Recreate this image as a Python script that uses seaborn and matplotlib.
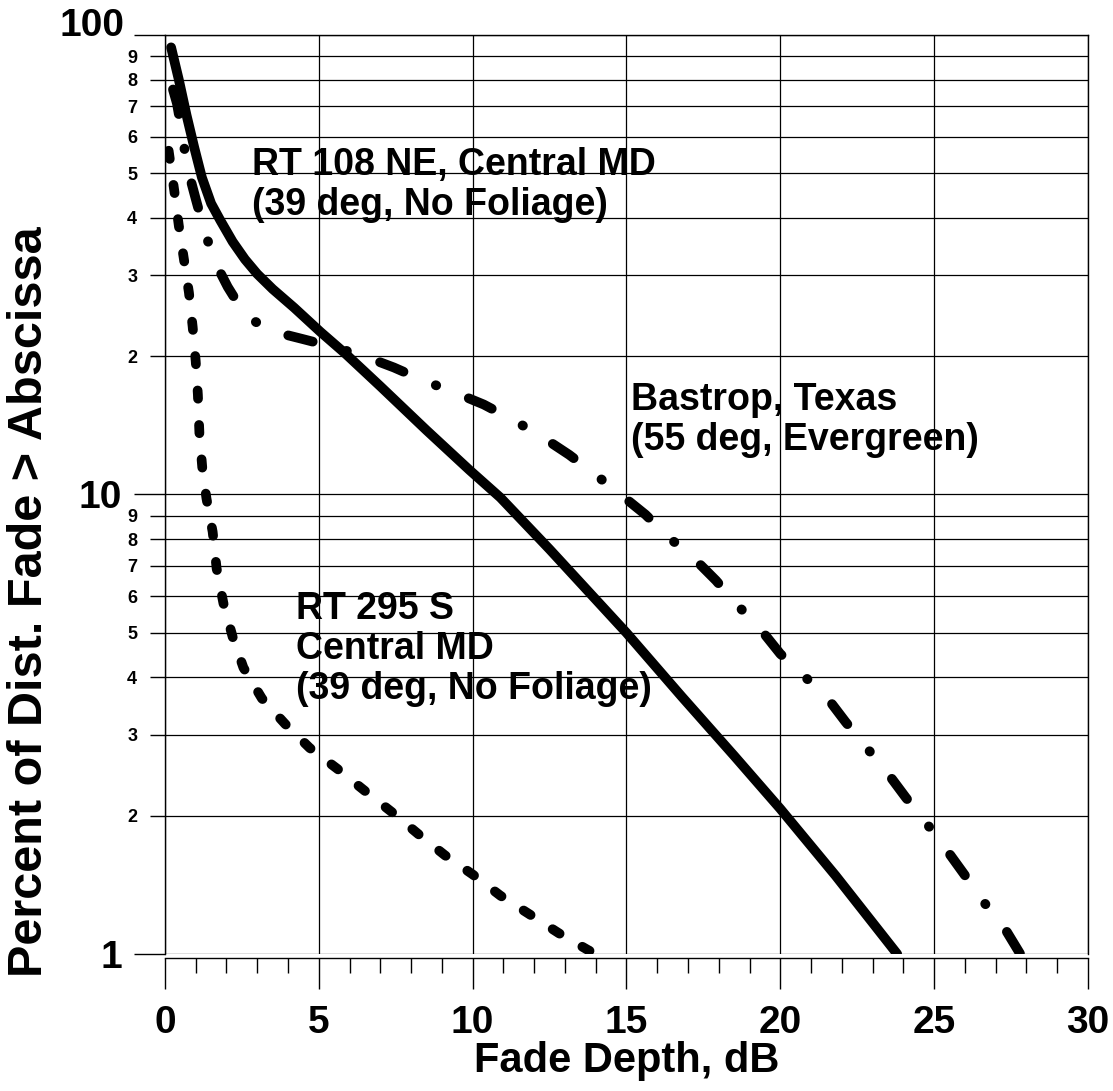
import numpy as np
import pandas as pd
import matplotlib
matplotlib.use("Agg")
import matplotlib.pyplot as plt
import seaborn as sns
from matplotlib.ticker import FixedLocator, FixedFormatter, MultipleLocator

# ---------------- data ----------------
rt108_x = [0.2, 0.45, 0.7, 0.95, 1.2, 1.5, 1.8, 2.2, 2.6, 3.0, 3.5, 4.2, 5.05,
           5.85, 7.0, 8.5, 9.9, 10.9, 12.5, 15.0, 16.8, 18.5, 20.0, 21.8, 23.8]
rt108_y = [94, 80, 67, 57, 49, 43, 39.5, 35.5, 32.5, 30.2, 28.0, 25.5, 22.6,
           20.3, 17.2, 13.8, 11.3, 9.85, 7.6, 5.0, 3.63, 2.7, 2.07, 1.48, 1.0]

bastrop_x = [0.1, 0.39, 0.58, 0.71, 1.0, 1.26, 1.6, 2.04, 2.62, 3.43, 4.47, 5.53,
             6.47, 7.44, 8.41, 9.39, 10.36, 11.34, 12.22, 13.14, 13.95, 14.77,
             15.62, 16.34, 17.16, 17.91, 18.6, 19.35, 20.0, 20.82, 21.54, 22.12,
             22.81, 23.46, 24.08, 24.74, 25.39, 25.98, 26.6, 27.25, 27.8]
bastrop_y = [83, 71, 60, 52, 44, 38, 32.3, 28.3, 24.5, 22.7, 21.8, 20.9,
             20.0, 18.9, 17.7, 16.7, 15.7, 14.5, 13.4, 12.2, 11.1, 10.05,
             9.04, 8.1, 7.3, 6.5, 5.75, 5.1, 4.5, 4.0, 3.6, 3.2,
             2.81, 2.49, 2.19, 1.93, 1.69, 1.49, 1.30, 1.15, 1.0]

rt295_x = [0.12, 0.3, 0.45, 0.62, 0.78, 0.9, 1.0, 1.07, 1.12, 1.22, 1.35, 1.55,
           1.68, 1.9, 2.2, 2.55, 3.15, 3.9, 4.7, 5.6, 6.55, 7.4, 8.25, 9.1,
           10.0, 10.9, 11.85, 12.8, 13.75, 14.0]
rt295_y = [56, 46, 38.5, 32.4, 27.5, 23.2, 19.5, 16.5, 13.6, 11.3, 9.8, 8.3,
           6.9, 5.8, 4.9, 4.2, 3.6, 3.17, 2.81, 2.53, 2.25, 2.03, 1.82, 1.64,
           1.49, 1.34, 1.22, 1.11, 1.02, 1.0]

x_major = [0, 5, 10, 15, 20, 25, 30]
x_major_labels = ["0", "5", "10", "15", "20", "25", "30"]
y_major = [1, 10, 100]
y_major_labels = ["1", "10", ""]
y_top_label = "100"
y_minor = [2, 3, 4, 5, 6, 7, 8, 9, 20, 30, 40, 50, 60, 70, 80, 90]
y_minor_labels = ["2", "3", "4", "5", "6", "7", "8", "9",
                  "2", "3", "4", "5", "6", "7", "8", "9"]

label_rt108 = "RT 108 NE, Central MD\n(39 deg, No Foliage)"
label_bastrop = "Bastrop, Texas\n(55 deg, Evergreen)"
label_rt295 = "RT 295 S\nCentral MD\n(39 deg, No Foliage)"
x_title = "Fade Depth, dB"
y_title = "Percent of Dist. Fade > Abscissa"

# ---------------- style ----------------
sns.set_theme(style="white")
plt.rcParams["font.family"] = ["Liberation Sans", "DejaVu Sans"]
plt.rcParams["font.weight"] = "bold"
plt.rcParams["axes.edgecolor"] = "black"

fig = plt.figure(figsize=(11.13, 10.91), dpi=100)
ax = fig.add_axes([0.1482, 0.1256, 0.8293, 0.8423])

series = [
    (rt108_x, rt108_y, None),
    (bastrop_x, bastrop_y, (8.0, (2.6, 3.6, 0.05, 3.6))),
    (rt295_x, rt295_y, (0.0, (0.85, 2.7))),
]
for xs, ys, style in series:
    df = pd.DataFrame({"x": xs, "y": ys})
    sns.lineplot(data=df, x="x", y="y", ax=ax, color="black", linewidth=7,
                 estimator=None, sort=False)
    ln = ax.lines[-1]
    if style is not None:
        ln.set_linestyle(style)
    ln.set_solid_capstyle("round")
    ln.set_dash_capstyle("round")
    ln.set_solid_joinstyle("round")

ax.set_yscale("log")
ax.set_xlim(0, 30)
ax.set_ylim(1, 100)

ax.xaxis.set_major_locator(FixedLocator(x_major))
ax.xaxis.set_major_formatter(FixedFormatter(x_major_labels))
ax.xaxis.set_minor_locator(MultipleLocator(1))
ax.yaxis.set_major_locator(FixedLocator(y_major))
ax.yaxis.set_major_formatter(FixedFormatter(y_major_labels))
ax.yaxis.set_minor_locator(FixedLocator(y_minor))
ax.yaxis.set_minor_formatter(FixedFormatter(y_minor_labels))

ax.tick_params(axis="x", which="major", bottom=True, length=22, width=1,
               color="black", direction="out", pad=12, labelsize=28,
               labelcolor="black")
ax.tick_params(axis="x", which="minor", bottom=True, length=11, width=1,
               color="black", direction="out")
ax.tick_params(axis="y", which="major", left=True, length=22, width=1,
               color="black", direction="out", pad=9, labelsize=28,
               labelcolor="black")
ax.tick_params(axis="y", which="minor", left=True, length=11, width=1,
               color="black", direction="out", pad=9, labelsize=13,
               labelcolor="black")

# the "100" label sits a little above its grid line in the reference
ax.annotate(y_top_label, xy=(0, 100), xycoords=("axes fraction", "data"),
            xytext=(-29, 6.5), textcoords="offset points", ha="right",
            va="center", fontsize=28, fontweight="bold", color="black",
            annotation_clip=False)

ax.grid(True, which="major", axis="x", color="black", linewidth=0.9)
ax.grid(True, which="both", axis="y", color="black", linewidth=0.9)
ax.set_axisbelow(True)

for s in ax.spines.values():
    s.set_color("black")
    s.set_linewidth(1.0)
ax.spines["bottom"].set_position(("outward", 3))

txt_kw = dict(fontsize=27, fontweight="bold", color="black", ha="left",
              va="top", linespacing=1.15)
ax.text(2.82, 57, label_rt108, **txt_kw)
ax.text(15.15, 17.6, label_bastrop, **txt_kw)
ax.text(4.27, 6.18, label_rt295, **txt_kw)

ax.set_xlabel(x_title, fontsize=30, fontweight="bold", color="black", labelpad=0)
ax.set_ylabel(y_title, fontsize=35, fontweight="bold", color="black")
ax.yaxis.set_label_coords(-0.122, 0.383)

fig.savefig("out.png", dpi=100)
